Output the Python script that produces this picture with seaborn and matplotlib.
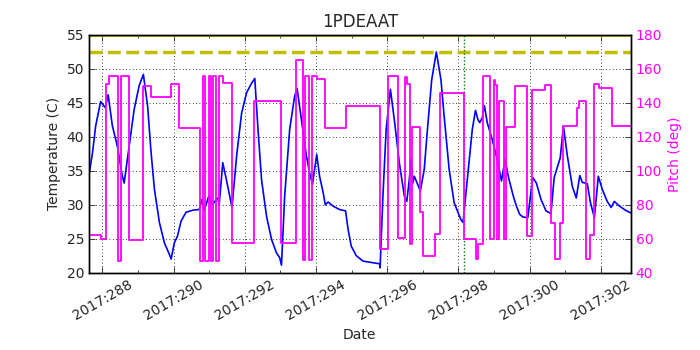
import matplotlib
matplotlib.use('Agg')
import matplotlib.pyplot as plt
from matplotlib.ticker import FuncFormatter, MultipleLocator
import seaborn as sns

# temperature track (day of year 2017, deg C)
temp_day = [287.62, 287.72, 287.81, 287.95, 288.08, 288.16, 288.28, 288.42, 288.56, 288.61,
            288.75, 288.89, 289.03, 289.15, 289.27, 289.36, 289.46, 289.60, 289.74, 289.88,
            289.93, 290.02, 290.11, 290.21, 290.35, 290.54, 290.72, 290.80, 290.86, 290.99,
            291.08, 291.24, 291.28, 291.38, 291.49, 291.64, 291.77, 291.91, 292.05, 292.19,
            292.28, 292.37, 292.47, 292.61, 292.75, 292.89, 292.98, 293.03, 293.12, 293.26,
            293.40, 293.47, 293.59, 293.73, 293.82, 293.90, 293.96, 294.02, 294.10, 294.20,
            294.26, 294.34, 294.48, 294.66, 294.83, 294.90, 294.99, 295.13, 295.32, 295.55,
            295.79, 295.80, 295.88, 295.97, 296.09, 296.20, 296.34, 296.48, 296.55, 296.62,
            296.67, 296.72, 296.76, 296.84, 296.93, 297.04, 297.13, 297.25, 297.38, 297.51,
            297.60, 297.74, 297.88, 298.07, 298.13, 298.25, 298.39, 298.48, 298.55, 298.60,
            298.67, 298.73, 298.81, 298.95, 299.09, 299.21, 299.31, 299.40, 299.54, 299.63,
            299.72, 299.81, 299.95, 300.00, 300.09, 300.19, 300.32, 300.46, 300.60, 300.69,
            300.79, 300.86, 300.95, 301.06, 301.20, 301.31, 301.41, 301.48, 301.62, 301.71,
            301.82, 301.93, 302.04, 302.18, 302.29, 302.38, 302.50, 302.69, 302.84]
temp_c = [34.3, 37.6, 41.6, 45.2, 44.3, 46.2, 41.6, 38.6, 34.2, 33.2,
          38.6, 44.0, 47.5, 49.2, 44.5, 38.1, 32.3, 27.4, 24.4, 22.7,
          22.0, 24.4, 25.4, 27.6, 28.9, 29.2, 29.3, 30.8, 29.2, 31.3,
          30.0, 31.0, 30.0, 36.2, 33.5, 29.6, 37.2, 43.5, 46.5, 47.9,
          48.6, 41.1, 33.7, 28.3, 24.9, 22.9, 22.2, 21.1, 31.3, 41.1,
          46.0, 47.1, 42.5, 37.2, 34.7, 33.0, 35.2, 37.4, 34.2, 31.8,
          30.0, 30.4, 29.8, 29.3, 29.1, 26.4, 23.9, 22.5, 21.7, 21.5,
          21.3, 20.7, 31.3, 41.1, 47.0, 42.5, 36.2, 31.3, 30.5, 33.7,
          36.7, 33.2, 34.2, 33.2, 32.0, 35.2, 41.1, 48.4, 52.5, 48.4,
          43.0, 35.2, 30.3, 27.8, 27.4, 33.7, 41.1, 43.9, 42.5, 42.1,
          42.8, 44.6, 42.1, 39.6, 36.7, 33.5, 36.7, 34.2, 31.3, 29.8,
          28.6, 28.2, 28.1, 30.3, 34.0, 33.2, 30.8, 29.1, 28.7, 34.0,
          35.7, 36.9, 41.6, 37.2, 32.7, 31.0, 34.3, 33.3, 33.1, 30.3,
          28.1, 34.2, 32.3, 30.5, 29.6, 30.5, 29.9, 29.2, 28.8]

# pitch track (step changes)
pitch_day = [287.62, 287.97, 288.09, 288.18, 288.43, 288.51, 288.74, 289.14, 289.37, 289.93,
             290.14, 290.75, 290.83, 290.88, 290.99, 291.05, 291.11, 291.20, 291.28, 291.39,
             291.63, 292.25, 293.02, 293.43, 293.63, 293.70, 293.79, 293.88, 294.02, 294.26,
             294.83, 295.79, 296.03, 296.29, 296.49, 296.55, 296.64, 296.69, 296.91, 297.00,
             297.35, 297.48, 298.15, 298.50, 298.54, 298.69, 298.89, 298.99, 299.04, 299.09,
             299.15, 299.29, 299.35, 299.59, 299.93, 300.06, 300.44, 300.61, 300.71, 300.85,
             300.94, 301.33, 301.38, 301.58, 301.70, 301.81, 301.94, 302.31, 302.84]
pitch_deg = [62, 60, 151, 156, 47, 156, 59, 150, 143.5, 151,
             125, 47, 156, 47, 156, 47, 156, 47, 156, 152,
             57.6, 141, 57.6, 165.5, 47.5, 156, 47.5, 156, 154, 125,
             138, 53.7, 156, 60.6, 155.5, 151.4, 57, 125.7, 75.7, 49.8,
             63, 146, 59.6, 48, 56.7, 156, 60, 153.3, 150.8, 60,
             141, 60, 126, 150, 61.6, 147.5, 150.4, 69, 48.2, 69,
             126.3, 137, 141, 47.8, 62.2, 151.4, 148.8, 126.3, 126.3]

planning_limit = 52.5
event_day = 298.16

sns.set_style('white')
plt.rcParams['font.family'] = ['DejaVu Sans']
plt.rcParams['xtick.direction'] = 'in'
plt.rcParams['ytick.direction'] = 'in'

fig, ax = plt.subplots(figsize=(7, 3.5), dpi=100)
fig.subplots_adjust(left=0.127, right=0.901, top=0.9, bottom=0.221)

sns.lineplot(x=temp_day, y=temp_c, ax=ax, color='blue', lw=1.2,
             estimator=None, sort=False, legend=False)
ax.axhline(planning_limit, color=(0.75, 0.75, 0), lw=2.5, ls='--')
ax.axhline(55, color=(0.75, 0.75, 0), lw=2)
ax.axvline(event_day, color='green', lw=1, ls=(0, (1, 1.5)))

ax.set_xlim(287.62, 302.84)
ax.set_ylim(20, 55)
ax.xaxis.set_major_locator(MultipleLocator(2))
ax.xaxis.set_minor_locator(MultipleLocator(1))
ax.xaxis.set_major_formatter(FuncFormatter(lambda v, p: '2017:%03d' % int(round(v))))
ax.yaxis.set_major_locator(MultipleLocator(5))
ax.tick_params(axis='x', which='both', top=True, bottom=True, labelsize=10, rotation=30)
ax.tick_params(axis='x', which='major', length=4, width=0.6)
ax.tick_params(axis='x', which='minor', length=2, width=0.6)
ax.tick_params(axis='y', left=True, labelsize=10, length=4, width=0.6)
for lab in ax.get_xticklabels():
    lab.set_ha('center')
ax.grid(True, which='major', color='black', lw=0.6, ls=(0, (1, 3)))
ax.set_xlabel('Date', fontsize=10)
ax.set_ylabel('Temperature (C)', fontsize=10)
ax.set_title('1PDEAAT', fontsize=12)

ax2 = ax.twinx()
sns.lineplot(x=pitch_day, y=pitch_deg, ax=ax2, color='magenta', lw=1.3,
             drawstyle='steps-post', estimator=None, sort=False, legend=False)
ax2.set_ylim(40, 180)
ax2.yaxis.set_major_locator(MultipleLocator(20))
ax2.tick_params(axis='y', right=True, labelsize=10, labelcolor='magenta',
                length=4, width=0.6)
ax2.set_ylabel('Pitch (deg)', fontsize=10, color='magenta')
ax2.set_xlim(287.62, 302.84)

for a in (ax, ax2):
    for s in a.spines.values():
        s.set_color('black')
        s.set_linewidth(1.0)

fig.savefig('out.png', dpi=100, facecolor='white')
